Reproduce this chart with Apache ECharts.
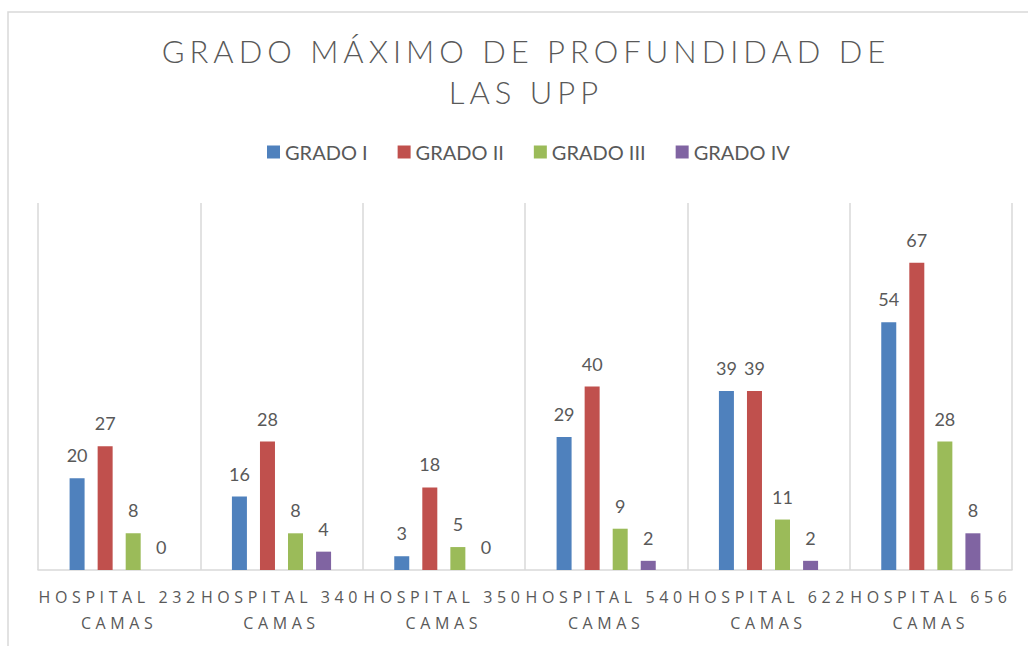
<!DOCTYPE html>
<html>
<head>
<meta charset="utf-8">
<script src="https://cdn.jsdelivr.net/npm/echarts@6/dist/echarts.min.js"></script>
<style>
  html, body { margin: 0; padding: 0; background: #ffffff; }
  #main { width: 1028px; height: 646px; }
  /* Wide letter spacing like the original (title and category labels) */
  #main text[style*="DejaVu Serif"] { letter-spacing: 5px; }
  #main text[style*="Liberation Serif"] { letter-spacing: 4.6px; }
</style>
</head>
<body>
<div id="main"></div>
<script>
const titleText = 'GRADO MÁXIMO DE PROFUNDIDAD DE\nLAS UPP';
const categories = [
  'HOSPITAL 232 CAMAS',
  'HOSPITAL 340 CAMAS',
  'HOSPITAL 350 CAMAS',
  'HOSPITAL 540 CAMAS',
  'HOSPITAL 622 CAMAS',
  'HOSPITAL 656 CAMAS'
];
const seriesNames = ['GRADO I', 'GRADO II', 'GRADO III', 'GRADO IV'];
const gradoI   = [20, 16, 3, 29, 39, 54];
const gradoII  = [27, 28, 18, 40, 39, 67];
const gradoIII = [8, 8, 5, 9, 11, 28];
const gradoIV  = [0, 4, 0, 2, 2, 8];
const colors = ['#4f81bd', '#c0504d', '#9bbb59', '#8064a2'];

const chart = echarts.init(document.getElementById('main'), null, { renderer: 'svg' });

const values = [gradoI, gradoII, gradoIII, gradoIV];
const series = values.map((vals, i) => ({
  name: seriesNames[i],
  type: 'bar',
  data: vals,
  barWidth: 15,
  barGap: '87%',
  itemStyle: { color: colors[i] },
  label: {
    show: true,
    position: 'top',
    distance: 14,
    color: '#595959',
    fontSize: 18,
    fontFamily: 'Lato, Arial'
  }
}));

chart.setOption({
  animation: false,
  backgroundColor: '#ffffff',
  graphic: [{
    type: 'rect',
    silent: true,
    z: -10,
    shape: { x: 8, y: 12, width: 1060, height: 680 },
    style: { fill: 'none', stroke: '#d9d9d9', lineWidth: 1.5 }
  }],
  title: {
    text: titleText,
    left: 526,
    textAlign: 'center',
    top: 30,
    padding: 0,
    textStyle: {
      fontFamily: 'Lato, DejaVu Serif',
      fontWeight: 300,
      fontSize: 31,
      lineHeight: 41,
      color: '#595959'
    }
  },
  legend: {
    data: seriesNames,
    top: 137,
    left: 262,
    itemWidth: 13,
    itemHeight: 13,
    itemGap: 30,
    icon: 'rect',
    textStyle: {
      fontFamily: 'Lato, Arial',
      fontSize: 20,
      color: '#595959'
    }
  },
  grid: {
    left: 38,
    right: 16,
    top: 203,
    bottom: 76,
    containLabel: false
  },
  xAxis: {
    type: 'category',
    data: categories,
    axisLine: { show: true, lineStyle: { color: '#d9d9d9', width: 1.5 } },
    axisTick: { show: false },
    splitLine: { show: true, interval: 0, lineStyle: { color: '#d9d9d9', width: 1.5 } },
    axisLabel: {
      interval: 0,
      margin: 14,
      fontFamily: 'Open Sans, Liberation Serif',
      fontSize: 16,
      lineHeight: 26,
      color: '#595959',
      formatter: v => v.replace(' CAMAS', '\nCAMAS')
    }
  },
  yAxis: {
    type: 'value',
    min: 0,
    max: 80,
    interval: 10,
    show: false,
    splitLine: { show: false }
  },
  series: series
});
</script>
</body>
</html>
